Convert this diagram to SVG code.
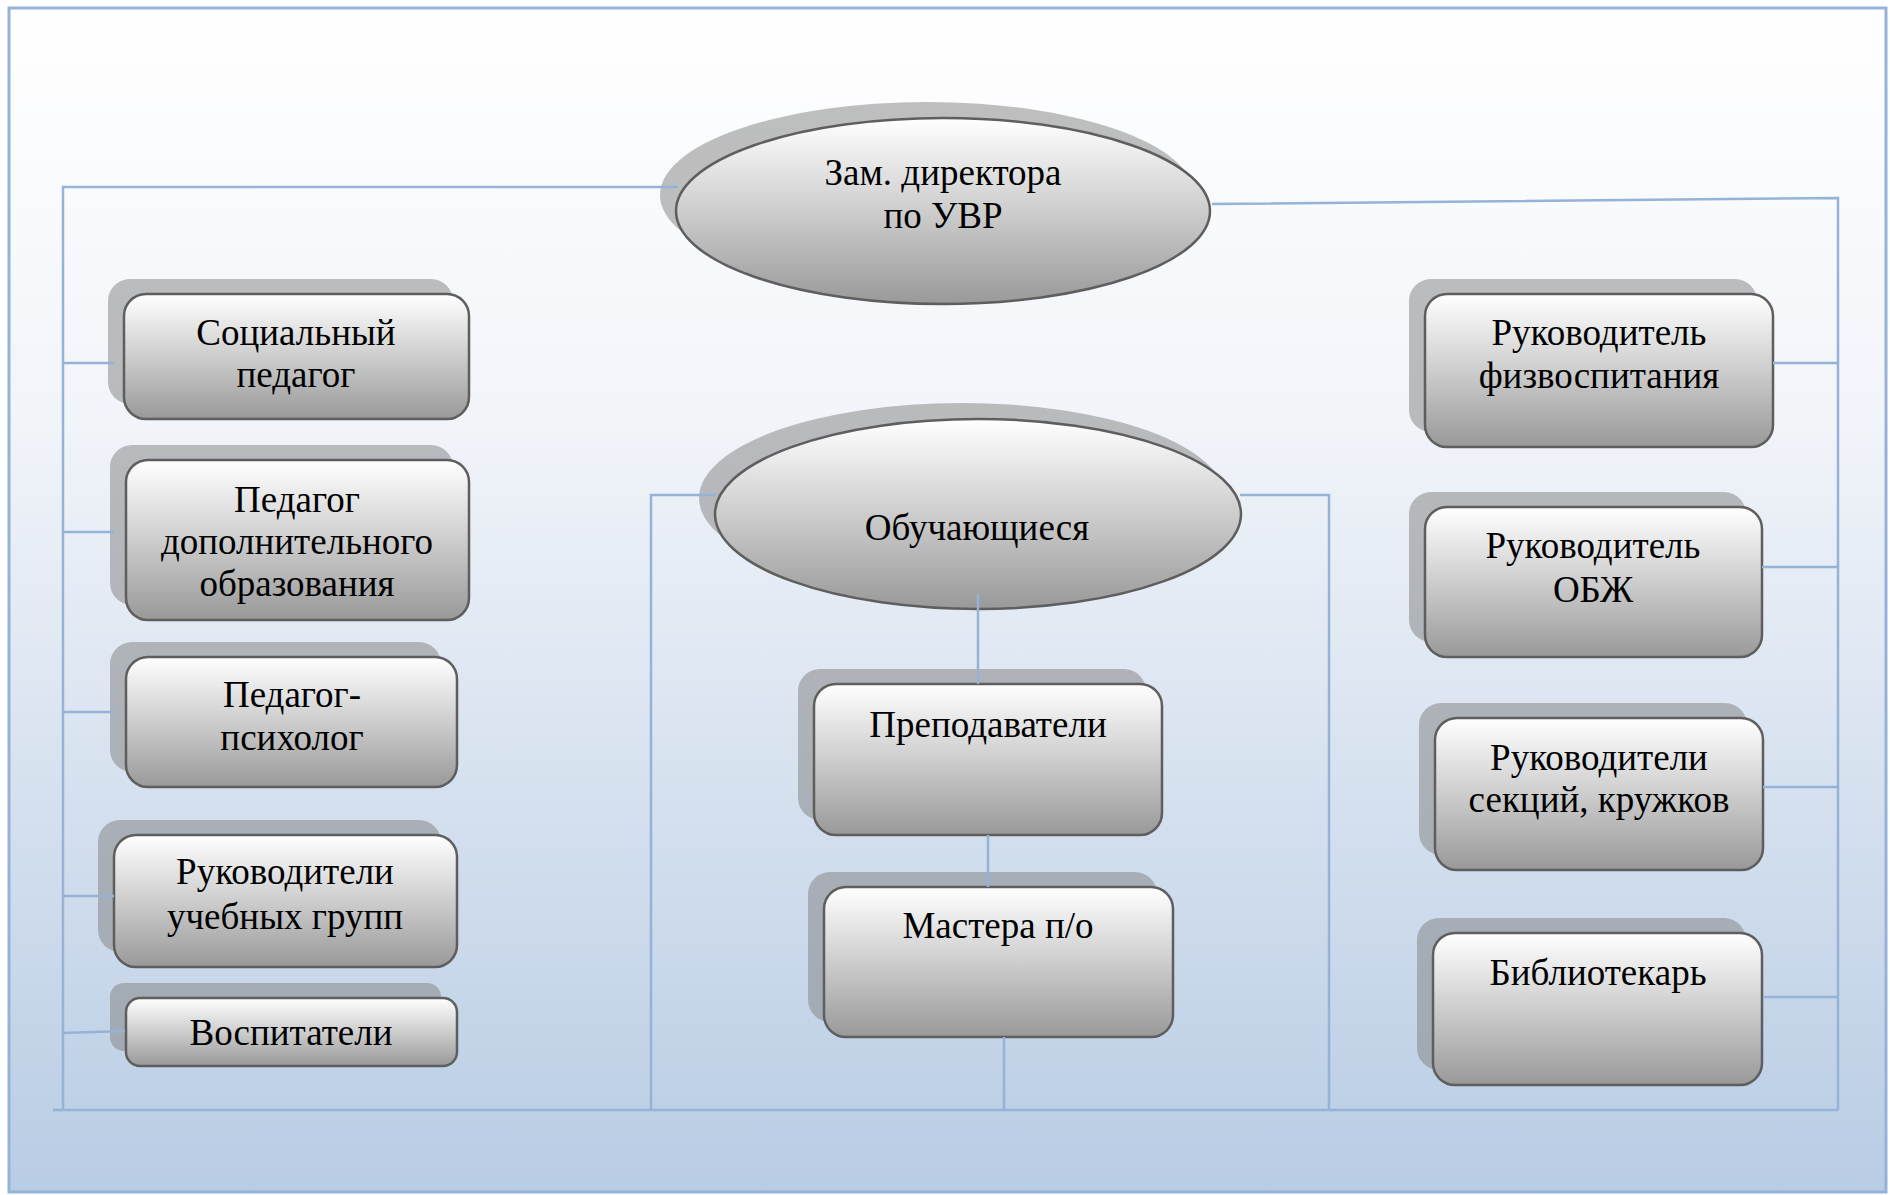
<svg xmlns="http://www.w3.org/2000/svg" width="1890" height="1195" viewBox="0 0 1890 1195">
<defs>
<linearGradient id="bg" x1="0" y1="0" x2="0" y2="1">
<stop offset="0" stop-color="#ffffff"/>
<stop offset="0.35" stop-color="#f1f4f9"/>
<stop offset="1" stop-color="#b8cce4"/>
</linearGradient>
<linearGradient id="nodeFill" x1="0" y1="0" x2="0" y2="1">
<stop offset="0" stop-color="#ffffff"/>
<stop offset="0.5" stop-color="#cdcdcd"/>
<stop offset="1" stop-color="#999999"/>
</linearGradient>
<style>
.shadow { fill: #808080; fill-opacity: 0.5; }
.box { fill: url(#nodeFill); stroke: #5e5e5e; stroke-width: 2.5; }
.lbl { font-family: "Liberation Serif", "Times New Roman", serif; font-size: 37px; fill: #000; text-anchor: middle; }
.conn { fill: none; stroke: #95b3d7; stroke-width: 2.5; }
</style>
</defs>
<rect x="0" y="0" width="1890" height="1195" fill="#ffffff"/>
<rect x="9" y="8" width="1877" height="1184" fill="url(#bg)" stroke="#95b3d7" stroke-width="3"/>

<g id="node-zam">
<ellipse class="shadow" cx="927" cy="195" rx="267" ry="93"/>
<ellipse class="box" cx="943" cy="211" rx="267" ry="93"/>
<text class="lbl" x="943" y="185">Зам. директора</text>
<text class="lbl" x="943" y="228">по УВР</text>
</g>

<g id="node-socped">
<rect class="shadow" x="108" y="279" width="345" height="125" rx="22"/>
<rect class="box" x="124" y="294" width="345" height="125" rx="22"/>
<text class="lbl" x="296" y="345">Социальный</text>
<text class="lbl" x="296" y="387">педагог</text>
</g>

<g id="node-peddop">
<rect class="shadow" x="110" y="445" width="343" height="160" rx="22"/>
<rect class="box" x="126" y="460" width="343" height="160" rx="22"/>
<text class="lbl" x="297" y="512">Педагог</text>
<text class="lbl" x="297" y="554">дополнительного</text>
<text class="lbl" x="297" y="596">образования</text>
</g>

<g id="node-psy">
<rect class="shadow" x="110" y="642" width="331" height="130" rx="22"/>
<rect class="box" x="126" y="657" width="331" height="130" rx="22"/>
<text class="lbl" x="292" y="707">Педагог-</text>
<text class="lbl" x="292" y="750">психолог</text>
</g>

<g id="node-rukgr">
<rect class="shadow" x="98" y="820" width="343" height="132" rx="22"/>
<rect class="box" x="114" y="835" width="343" height="132" rx="22"/>
<text class="lbl" x="285" y="884">Руководители</text>
<text class="lbl" x="285" y="929">учебных групп</text>
</g>

<g id="node-vosp">
<rect class="shadow" x="110" y="983" width="331" height="68" rx="14"/>
<rect class="box" x="126" y="998" width="331" height="68" rx="14"/>
<text class="lbl" x="291" y="1045">Воспитатели</text>
</g>

<g id="node-obuch">
<ellipse class="shadow" cx="962" cy="498" rx="263" ry="95"/>
<ellipse class="box" cx="978" cy="514" rx="263" ry="95"/>
<text class="lbl" x="977" y="540">Обучающиеся</text>
</g>

<g id="node-prep">
<rect class="shadow" x="798" y="669" width="348" height="151" rx="22"/>
<rect class="box" x="814" y="684" width="348" height="151" rx="22"/>
<text class="lbl" x="988" y="737">Преподаватели</text>
</g>

<g id="node-master">
<rect class="shadow" x="808" y="872" width="349" height="150" rx="22"/>
<rect class="box" x="824" y="887" width="349" height="150" rx="22"/>
<text class="lbl" x="998" y="938">Мастера п/о</text>
</g>

<g id="node-fiz">
<rect class="shadow" x="1409" y="279" width="348" height="153" rx="22"/>
<rect class="box" x="1425" y="294" width="348" height="153" rx="22"/>
<text class="lbl" x="1599" y="345">Руководитель</text>
<text class="lbl" x="1599" y="388">физвоспитания</text>
</g>

<g id="node-obzh">
<rect class="shadow" x="1409" y="492" width="337" height="150" rx="22"/>
<rect class="box" x="1425" y="507" width="337" height="150" rx="22"/>
<text class="lbl" x="1593" y="558">Руководитель</text>
<text class="lbl" x="1593" y="602">ОБЖ</text>
</g>

<g id="node-sekc">
<rect class="shadow" x="1419" y="703" width="328" height="152" rx="22"/>
<rect class="box" x="1435" y="718" width="328" height="152" rx="22"/>
<text class="lbl" x="1599" y="770">Руководители</text>
<text class="lbl" x="1599" y="812">секций, кружков</text>
</g>

<g id="node-bibl">
<rect class="shadow" x="1417" y="918" width="329" height="152" rx="22"/>
<rect class="box" x="1433" y="933" width="329" height="152" rx="22"/>
<text class="lbl" x="1598" y="985">Библиотекарь</text>
</g>

<g id="connectors">
<polyline class="conn" points="678,187 63,187 63,1110"/>
<line class="conn" x1="63" y1="363" x2="114" y2="363"/>
<line class="conn" x1="63" y1="532" x2="114" y2="532"/>
<line class="conn" x1="63" y1="712" x2="114" y2="712"/>
<line class="conn" x1="63" y1="896" x2="114" y2="896"/>
<line class="conn" x1="63" y1="1033" x2="125" y2="1031"/>
<polyline class="conn" points="1212,204 1838,198 1838,1110"/>
<line class="conn" x1="1773" y1="363" x2="1838" y2="363"/>
<line class="conn" x1="1762" y1="567" x2="1838" y2="567"/>
<line class="conn" x1="1763" y1="787" x2="1838" y2="787"/>
<line class="conn" x1="1763" y1="997" x2="1838" y2="997"/>
<line class="conn" x1="53" y1="1110" x2="1838" y2="1110"/>
<polyline class="conn" points="716,495 651,495 651,1110"/>
<polyline class="conn" points="1240,495 1329,495 1329,1110"/>
<line class="conn" x1="978" y1="594" x2="978" y2="684"/>
<line class="conn" x1="988" y1="835" x2="988" y2="887"/>
<line class="conn" x1="1004" y1="1037" x2="1004" y2="1110"/>
</g>
</svg>
